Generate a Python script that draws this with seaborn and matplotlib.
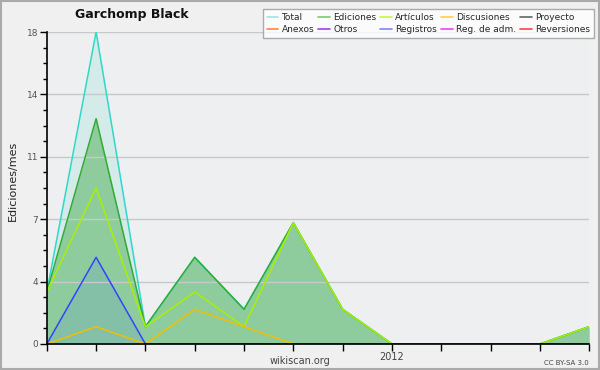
import matplotlib
matplotlib.use("Agg")
import matplotlib.pyplot as plt
import seaborn as sns
import numpy as np
import pandas as pd
from matplotlib.lines import Line2D
from matplotlib.ticker import FixedLocator, MultipleLocator

months = ["2011-06", "2011-07", "2011-08", "2011-09", "2011-10", "2011-11",
          "2011-12", "2012-01", "2012-02", "2012-03", "2012-04", "2012-05"]
total = [3, 18, 1, 5, 2, 7, 2, 0, 0, 0, 0, 1]
ediciones = [3, 13, 1, 5, 2, 7, 2, 0, 0, 0, 0, 1]
articulos = [3, 9, 1, 3, 1, 7, 2, 0, 0, 0, 0, 1]
discusiones = [0, 1, 0, 2, 1, 0, 0, 0, 0, 0, 0, 0]
registros = [0, 5, 0, 0, 0, 0, 0, 0, 0, 0, 0, 0]
year_label = "2012"
year_index = 7
y_ticks = [0, 3.6, 7.2, 10.8, 14.4, 18]
y_ticklabels = ["0", "4", "7", "11", "14", "18"]

legend_names = ["Total", "Ediciones", "Artículos", "Discusiones", "Proyecto",
                "Anexos", "Otros", "Registros", "Reg. de adm.", "Reversiones"]
legend_colors = ["#9fe6e0", "#6fcf6f", "#c8f542", "#ffd040", "#666666",
                 "#ff8844", "#9944ee", "#7788ff", "#ee44ee", "#ff4444"]

df = pd.DataFrame({"x": np.arange(len(months)), "Total": total, "Ediciones": ediciones,
                   "Artículos": articulos, "Discusiones": discusiones, "Registros": registros})

sns.set_theme(style="white")
plt.rcParams["font.family"] = ["DejaVu Sans"]

bg = "#eeeff1"
fig = plt.figure(figsize=(6, 3.7), dpi=100, facecolor="#f0f0f0")
ax = fig.add_axes([0.078, 0.0703, 0.904, 0.8432])
ax.set_facecolor(bg)

x = df["x"].values
ax.fill_between(x, df["Total"], 0, color="#40d8c0", alpha=0.15, lw=0, zorder=1)
ax.fill_between(x, df["Ediciones"], 0, color="#3aa844", alpha=0.45, lw=0, zorder=2)
ax.fill_between(x, df["Registros"], 0, color="#3355ff", alpha=0.1, lw=0, zorder=3)

sns.lineplot(data=df, x="x", y="Total", color="#30d8c8", lw=1.1, ax=ax, zorder=5)
sns.lineplot(data=df, x="x", y="Ediciones", color="#33aa33", lw=1.1, ax=ax, zorder=6)
sns.lineplot(data=df, x="x", y="Artículos", color="#a8f000", lw=1.1, ax=ax, zorder=7)
sns.lineplot(data=df, x="x", y="Discusiones", color="#f0c000", lw=1.1, ax=ax, zorder=8)
sns.lineplot(data=df, x="x", y="Registros", color="#3344ff", lw=1.1, ax=ax, zorder=9)

ax.set_xlim(0, len(months) - 1)
ax.set_ylim(0, 18)
for yv in y_ticks[1:]:
    ax.axhline(yv, color="#c8c8c8", lw=1, zorder=4)

ax.yaxis.set_major_locator(FixedLocator(y_ticks))
ax.set_yticklabels(y_ticklabels)
ax.yaxis.set_minor_locator(MultipleLocator(0.9))
ax.set_xticks(x)
ax.set_xticklabels([year_label if i == year_index else "" for i in range(len(months))])
ax.tick_params(axis="y", which="major", length=5, width=1, color="black",
               labelsize=6.5, labelcolor="#555555", pad=1, left=True)
ax.tick_params(axis="y", which="minor", length=3, width=1, color="black", left=True)
ax.tick_params(axis="x", which="major", length=5, width=1, color="black",
               labelsize=7, labelcolor="#444444", pad=1, bottom=True, direction="out")

for s in ["top", "right"]:
    ax.spines[s].set_visible(False)
for s in ["left", "bottom"]:
    ax.spines[s].set_color("black")
    ax.spines[s].set_linewidth(1.2)
    ax.spines[s].set_zorder(10)

ax.set_xlabel("")
ax.set_ylabel("")
fig.text(0.022, 0.51, "Ediciones/mes", rotation=90, ha="center", va="center",
         fontsize=8, color="#222222")
fig.text(0.22, 0.962, "Garchomp Black", ha="center", va="center",
         fontsize=9, fontweight="bold", color="#111111")
fig.text(0.5, 0.024, "wikiscan.org", ha="center", va="center", fontsize=7, color="#444444")
fig.text(0.982, 0.02, "CC BY-SA 3.0", ha="right", va="center", fontsize=5, color="#444444")

order = [0, 5, 1, 6, 2, 7, 3, 8, 4, 9]
handles = [Line2D([0], [0], color=legend_colors[i], lw=1.2) for i in order]
labels = [legend_names[i] for i in order]
leg = fig.legend(handles, labels, ncol=5, loc="upper right", bbox_to_anchor=(0.99, 0.975),
                 fontsize=6.5, frameon=True, fancybox=False, handlelength=1.3,
                 handletextpad=0.35, columnspacing=0.45, labelspacing=0.3,
                 borderpad=0.45, borderaxespad=0)
leg.get_frame().set_edgecolor("#999999")
leg.get_frame().set_facecolor("white")
leg.get_frame().set_linewidth(1)

fig.patches.append(plt.Rectangle((0.001, 0.002), 0.997, 0.995, transform=fig.transFigure,
                                 fill=False, edgecolor="#aaaaaa", lw=1.5))
fig.savefig("out.png", dpi=100, facecolor=fig.get_facecolor())
